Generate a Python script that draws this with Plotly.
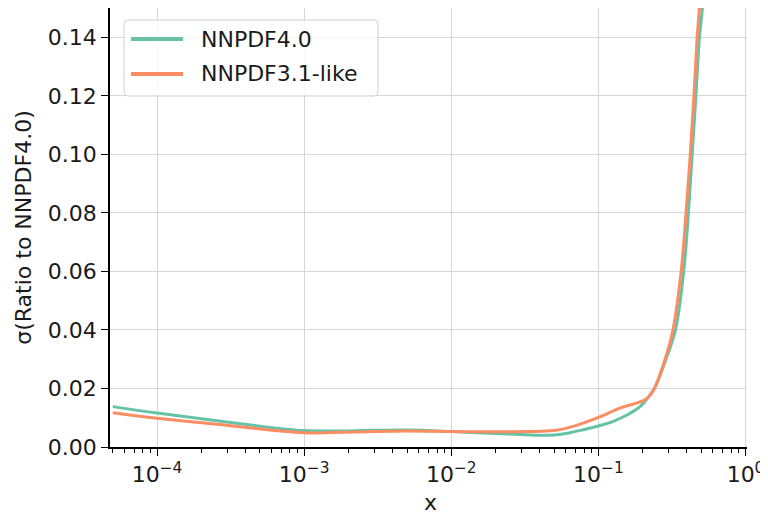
import plotly.graph_objects as go

# NNPDF4.0 (teal)
x_nnpdf40 = [5e-5, 1e-4, 3.16e-4, 1e-3, 3e-3, 5e-3, 1e-2, 2e-2, 3.2e-2, 4e-2, 5e-2, 6.3e-2, 8e-2,
             0.1, 0.125, 0.16, 0.19, 0.215, 0.24, 0.288, 0.334, 0.38, 0.409, 0.434, 0.46, 0.486, 0.509, 0.55]
y_nnpdf40 = [0.0138, 0.0116, 0.0084, 0.0056, 0.0057, 0.0058, 0.0053, 0.0046, 0.0042, 0.0040, 0.0041, 0.0048, 0.0060,
             0.0072, 0.0087, 0.0112, 0.0136, 0.0166, 0.0200, 0.030, 0.040, 0.060, 0.080, 0.100, 0.120, 0.140, 0.150, 0.175]

# NNPDF3.1-like (orange)
x_nnpdf31 = [5e-5, 1e-4, 3.16e-4, 1e-3, 3e-3, 5e-3, 1e-2, 2e-2, 3.2e-2, 5e-2, 7e-2,
             0.1, 0.14, 0.19, 0.215, 0.24, 0.28, 0.321, 0.365, 0.394, 0.421, 0.446, 0.469, 0.486, 0.52]
y_nnpdf31 = [0.0117, 0.0098, 0.0073, 0.0049, 0.0053, 0.0055, 0.0053, 0.0052, 0.0053, 0.0056, 0.0073,
             0.0101, 0.0133, 0.0153, 0.0167, 0.0200, 0.029, 0.040, 0.060, 0.080, 0.100, 0.120, 0.140, 0.150, 0.175]

series_names = ["NNPDF4.0", "NNPDF3.1-like"]
series_colors = ["#66c2a5", "#fc8d62"]

x_tickvals = [1e-4, 1e-3, 1e-2, 1e-1, 1]
x_ticktext = ["10<sup>−4</sup>", "10<sup>−3</sup>", "10<sup>−2</sup>", "10<sup>−1</sup>", "10<sup>0</sup>"]
x_minor = [m * 10.0 ** e for e in range(-5, 0) for m in range(2, 10)]
y_tickvals = [0.00, 0.02, 0.04, 0.06, 0.08, 0.10, 0.12, 0.14]
y_ticktext = ["0.00", "0.02", "0.04", "0.06", "0.08", "0.10", "0.12", "0.14"]
x_title = "x"
y_title = "σ(Ratio to NNPDF4.0)"

font = "DejaVu Sans"
txt = "#1a1a1a"
fs = 22

fig = go.Figure()
for xs, ys, name, col in [(x_nnpdf40, y_nnpdf40, series_names[0], series_colors[0]),
                          (x_nnpdf31, y_nnpdf31, series_names[1], series_colors[1])]:
    fig.add_trace(go.Scatter(x=xs, y=ys, mode="lines", name=name, showlegend=False,
                             line=dict(color=col, width=3, shape="spline", smoothing=1)))

# page offset from default body margin
OFF = 8
FW, FH = 768 - OFF, 512 - OFF
# plot area in page pixels: x 110..747, y 8..447
L, R, T, B = 110, 747, 8, 447
W, H = R - L, B - T
def px(xp): return (xp - L) / W
def py(yp): return (B - yp) / H

# custom legend box (rounded)
x0, x1, y0, y1 = px(124), px(378), py(96), py(20)
rx, ry = 4 / W, 4 / H
path = (f"M{x0+rx},{y0} L{x1-rx},{y0} Q{x1},{y0} {x1},{y0+ry} L{x1},{y1-ry} Q{x1},{y1} {x1-rx},{y1} "
        f"L{x0+rx},{y1} Q{x0},{y1} {x0},{y1-ry} L{x0},{y0+ry} Q{x0},{y0} {x0+rx},{y0} Z")
shapes = [dict(type="path", xref="paper", yref="paper", path=path,
               fillcolor="rgba(255,255,255,0.8)", line=dict(color="#d0d0d0", width=1), layer="above")]
annotations = []
for i, (name, col) in enumerate(zip(series_names, series_colors)):
    yy = py(39 + 35 * i)
    shapes.append(dict(type="line", xref="paper", yref="paper", x0=px(131), x1=px(183), y0=yy, y1=yy,
                       line=dict(color=col, width=4), layer="above"))
    annotations.append(dict(xref="paper", yref="paper", x=px(199), y=yy, text=name, showarrow=False,
                            xanchor="left", yanchor="middle", font=dict(size=fs, family=font, color=txt)))
# x-axis title
annotations.append(dict(xref="paper", yref="paper", x=px(430), y=py(502), text=x_title, showarrow=False,
                        xanchor="center", yanchor="middle", font=dict(size=fs, family=font, color=txt)))

fig.update_layout(
    width=FW, height=FH,
    margin=dict(l=L - OFF, r=768 - R, t=T - OFF, b=512 - B, autoexpand=False),
    paper_bgcolor="white", plot_bgcolor="white",
    font=dict(family=font, size=fs, color=txt),
    showlegend=False,
    shapes=shapes, annotations=annotations,
)
fig.update_xaxes(
    type="log", range=[-4.32, 0.01],
    tickvals=x_tickvals, ticktext=x_ticktext,
    showgrid=True, gridcolor="#d6d6d6", gridwidth=1,
    showline=True, linecolor="black", linewidth=1.5,
    ticks="outside", ticklen=7, tickcolor="black", tickwidth=1.2,
    minor=dict(tickmode="array", tickvals=x_minor, ticks="outside", ticklen=4,
               tickcolor="black", tickwidth=1, showgrid=False),
    zeroline=False, automargin=False,
    tickfont=dict(size=fs, family=font, color=txt),
)
fig.update_yaxes(
    range=[0, 0.15],
    tickvals=y_tickvals, ticktext=y_ticktext,
    showgrid=True, gridcolor="#d6d6d6", gridwidth=1,
    showline=True, linecolor="black", linewidth=1.5,
    ticks="outside", ticklen=7, tickcolor="black", tickwidth=1.2,
    zeroline=False, automargin=False,
    title=dict(text=y_title, font=dict(size=fs, family=font, color=txt), standoff=10),
    tickfont=dict(size=fs, family=font, color=txt),
)

fig.write_html("out.html")
